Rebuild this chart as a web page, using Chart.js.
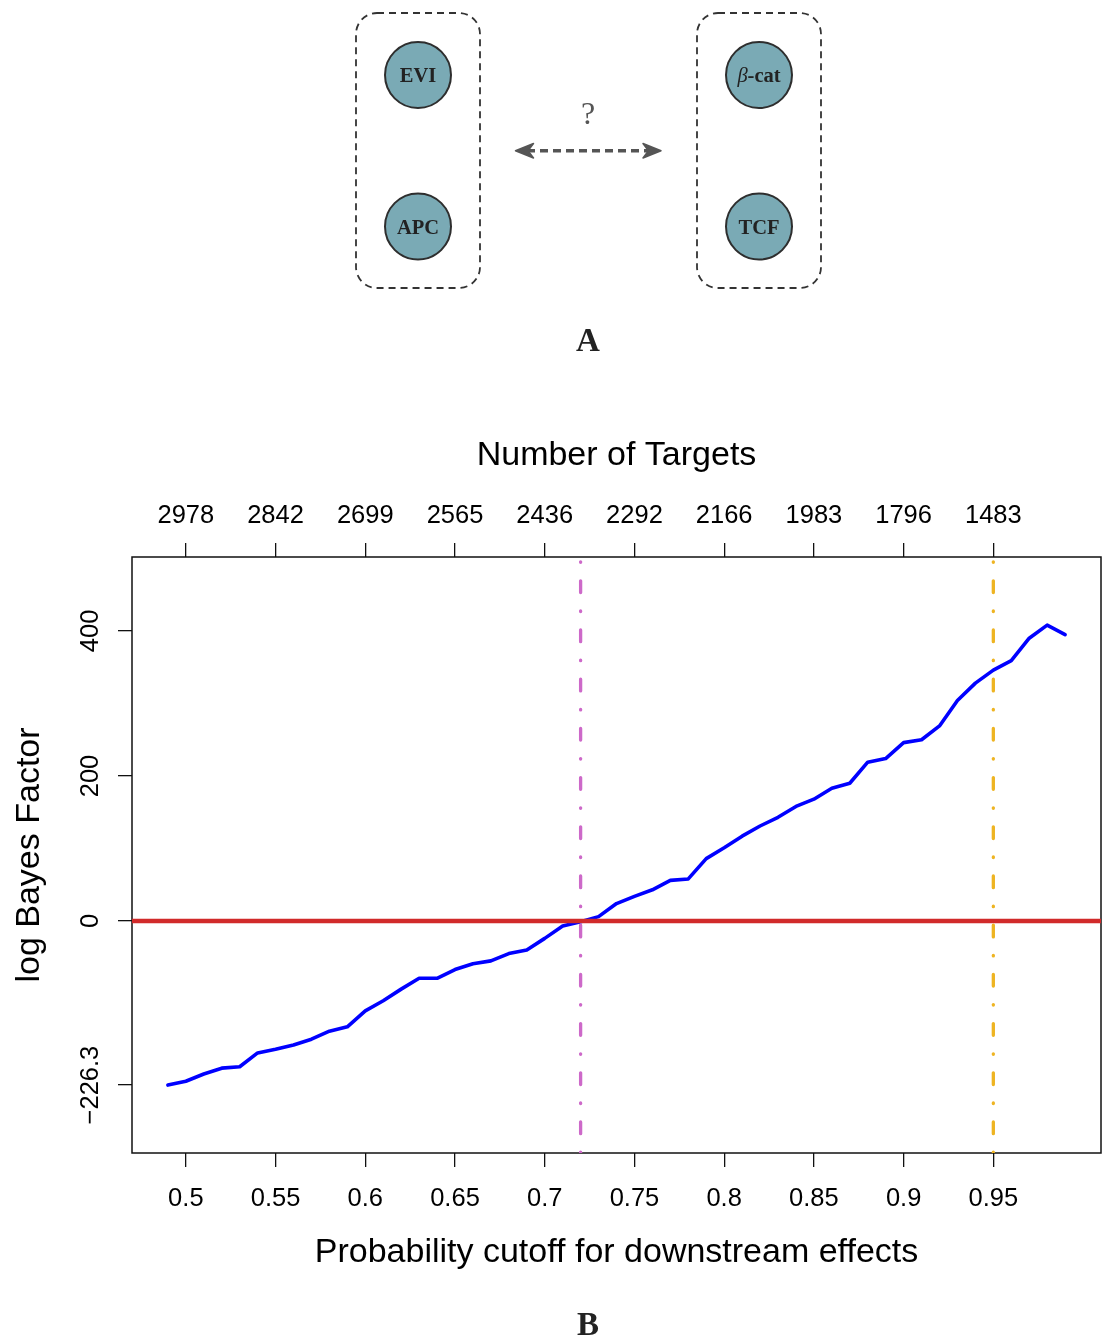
<!DOCTYPE html>
<html>
<head>
<meta charset="utf-8">
<script src="https://cdn.jsdelivr.net/npm/chart.js@4"></script>
<style>
html,body{margin:0;padding:0;background:#fff}
#wrap{position:relative;width:1109px;height:1338px}
#grafico{position:absolute;left:0;top:0}
#diagrama{position:absolute;left:0;top:0;pointer-events:none}
</style>
</head>
<body>
<div id="wrap">
<canvas id="grafico" width="1109" height="1338"></canvas>
<svg id="diagrama" width="1109" height="1338" viewBox="0 0 1109 1338">
<g fill="none" stroke="#333" stroke-width="1.8" stroke-dasharray="7 5">
<rect x="356" y="13" width="124" height="275" rx="21" ry="21"/>
<rect x="697" y="13" width="124" height="275" rx="21" ry="21"/>
</g>
<g fill="#7aaab5" stroke="#2e2e2e" stroke-width="2">
<circle cx="418" cy="75" r="33"/>
<circle cx="418" cy="226.5" r="33"/>
<circle cx="759" cy="75" r="33"/>
<circle cx="759" cy="226.5" r="33"/>
</g>
<g font-family="'Liberation Serif','DejaVu Serif',serif" font-weight="bold" font-size="20.5" fill="#222" text-anchor="middle" dominant-baseline="central">
<text x="418" y="75">EVI</text>
<text x="418" y="226.5">APC</text>
<text x="759" y="75"><tspan font-style="italic" font-weight="normal">β</tspan>-cat</text>
<text x="759" y="226.5">TCF</text>
</g>
<text x="588" y="113" font-family="'Liberation Serif',serif" font-size="32" fill="#555" text-anchor="middle" dominant-baseline="central">?</text>
<line x1="527" y1="150.7" x2="651" y2="150.7" stroke="#555" stroke-width="3.6" stroke-dasharray="8 5"/>
<path d="M515.5 150.7 L533.5 143.5 L528 150.7 L533.5 158 Z" fill="#555" stroke="#555" stroke-width="1.5" stroke-linejoin="round"/>
<path d="M661 150.7 L643 143.5 L648.5 150.7 L643 158 Z" fill="#555" stroke="#555" stroke-width="1.5" stroke-linejoin="round"/>
<g font-family="'Liberation Serif','DejaVu Serif',serif" font-weight="bold" font-size="33" fill="#222" text-anchor="middle" dominant-baseline="central">
<text x="588" y="340">A</text>
<text x="588" y="1324">B</text>
</g>
</svg>
</div>
<script>

// probabilidade de corte (eixo x) e log Bayes factor
const cortes=[0.49,0.50,0.51,0.52,0.53,0.54,0.55,0.56,0.57,0.58,0.59,0.60,0.61,0.62,0.63,0.64,0.65,0.66,0.67,0.68,0.69,0.70,0.71,0.72,0.73,0.74,0.75,0.76,0.77,0.78,0.79,0.80,0.81,0.82,0.83,0.84,0.85,0.86,0.87,0.88,0.89,0.90,0.91,0.92,0.93,0.94,0.95,0.96,0.97,0.98,0.99]
const logBF=[-226.3,-221,-211,-203,-201,-182,-177,-171,-163,-152,-146,-124,-110,-94,-79,-79,-67,-59,-55,-45,-40,-24,-7,-1,6,24,34,43,56,58,86,101,117,131,143,158,168,183,190,219,224,246,250,269,304,328,346,359,390,408,395]

const ticksX=[0.5,0.55,0.6,0.65,0.7,0.75,0.8,0.85,0.9,0.95]
const rotulosX=['0.5','0.55','0.6','0.65','0.7','0.75','0.8','0.85','0.9','0.95']
const alvos=['2978','2842','2699','2565','2436','2292','2166','1983','1796','1483']
const ticksY=[-226.3,0,200,400]
const rotulosY=['\u2212226.3','0','200','400']

const corteBaixo=0.72
const corteAlto=0.95
const xMin=0.47, xMax=1.01
const yMin=-320, yMax=502

const fonte='"Liberation Sans", Arial, sans-serif'
const tracoPonto=[0.5,18.5,11.7,18.5]

let pontos=cortes.map((c,i)=>({x:c,y:logBF[i]}))

const molduraTextos={
id:'molduraTextos',
beforeDatasetsDraw(chart){
let ctx=chart.ctx
let a=chart.chartArea
ctx.save()
ctx.strokeStyle='#111'
ctx.lineWidth=1.5
ctx.strokeRect(a.left,a.top,a.right-a.left,a.bottom-a.top)
ctx.restore()
},
afterDraw(chart){
let ctx=chart.ctx
let a=chart.chartArea
let sx=chart.scales.x
let sy=chart.scales.y
let meio=(a.left+a.right)/2
ctx.save()
ctx.fillStyle='#000'
ctx.textAlign='center'
ctx.textBaseline='middle'
ctx.font='25.5px '+fonte
ticksX.forEach((t,i)=>{
let px=sx.getPixelForValue(t)
ctx.fillText(rotulosX[i],px,a.bottom+46)
ctx.fillText(alvos[i],px,a.top-41)
})
ticksY.forEach((t,i)=>{
let py=sy.getPixelForValue(t)
ctx.save()
ctx.translate(a.left-41,py)
ctx.rotate(-Math.PI/2)
ctx.fillText(rotulosY[i],0,0)
ctx.restore()
})
ctx.font='34px '+fonte
ctx.fillText('Number of Targets',meio,a.top-101)
ctx.fillText('Probability cutoff for downstream effects',meio,a.bottom+100)
ctx.save()
ctx.translate(30,(a.top+a.bottom)/2)
ctx.rotate(-Math.PI/2)
ctx.fillText('log Bayes Factor',0,0)
ctx.restore()
ctx.restore()
}
}

let eixoX=(pos,altura)=>({
type:'linear',
position:pos,
min:xMin,
max:xMax,
afterBuildTicks:s=>{s.ticks=ticksX.map(v=>({value:v}))},
afterFit:s=>{s.height=altura},
ticks:{display:false,autoSkip:false},
border:{display:false},
grid:{drawOnChartArea:false,drawTicks:true,tickLength:14,color:'#111',lineWidth:1.3}
})

new Chart(document.getElementById('grafico'),{
type:'line',
data:{
datasets:[
{
label:'log BF',
data:pontos,
borderColor:'#0000ff',
borderWidth:3.6,
pointRadius:0,
tension:0,
borderJoinStyle:'round',
borderCapStyle:'round',
order:4
},
{
label:'zero',
data:[{x:xMin,y:0},{x:xMax,y:0}],
borderColor:'#d12a2a',
borderWidth:4.6,
pointRadius:0,
order:3
},
{
label:'corte baixo',
data:[{x:corteBaixo,y:yMax},{x:corteBaixo,y:yMin}],
borderColor:'#cd69c9',
borderWidth:3.3,
borderDash:tracoPonto,
borderDashOffset:-4.8,
borderCapStyle:'round',
pointRadius:0,
order:2
},
{
label:'corte alto',
data:[{x:corteAlto,y:yMax},{x:corteAlto,y:yMin}],
borderColor:'#eeb422',
borderWidth:3.3,
borderDash:tracoPonto,
borderDashOffset:-4.8,
borderCapStyle:'round',
pointRadius:0,
order:1
}
]
},
options:{
responsive:false,
animation:false,
devicePixelRatio:1,
layout:{padding:{left:0,top:0,right:8,bottom:0}},
plugins:{
legend:{display:false},
tooltip:{enabled:false}
},
scales:{
x:eixoX('bottom',185),
x2:eixoX('top',557),
y:{
type:'linear',
position:'left',
min:yMin,
max:yMax,
afterBuildTicks:s=>{s.ticks=ticksY.map(v=>({value:v}))},
afterFit:s=>{s.width=132},
ticks:{display:false,autoSkip:false},
border:{display:false},
grid:{drawOnChartArea:false,drawTicks:true,tickLength:14,color:'#111',lineWidth:1.3}
}
}
},
plugins:[molduraTextos]
})

</script>
</body>
</html>
